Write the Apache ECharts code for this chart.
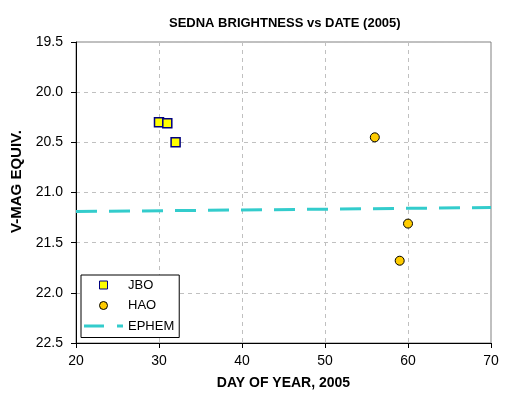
<!DOCTYPE html>
<html>
<head>
<meta charset="utf-8">
<script src="https://cdn.jsdelivr.net/npm/echarts@6/dist/echarts.min.js"></script>
<style>
  html, body { margin: 0; padding: 0; background: #fff; }
  #chart { width: 508px; height: 398px; }
</style>
</head>
<body>
<div id="chart"></div>
<script>
const jbo_days = [30, 31, 32];
const jbo_mag = [20.30, 20.31, 20.50];
const hao_days = [56, 60, 59];
const hao_mag = [20.45, 21.31, 21.68];
// ephemeris prediction
const ephem_days = [20, 70];
const ephem_mag = [21.19, 21.15];

const x_ticks = [20, 30, 40, 50, 60, 70];
const y_ticks = [19.5, 20.0, 20.5, 21.0, 21.5, 22.0, 22.5];

const FONT = "Liberation Sans, Arial, sans-serif";
const pairs = (xs, ys) => xs.map((x, i) => [x, ys[i]]);

const chart = echarts.init(document.getElementById("chart"), null, { renderer: "canvas" });

chart.setOption({
    animation: false,
    backgroundColor: "#fff",
    title: {
        text: "SEDNA BRIGHTNESS vs DATE (2005)",
        left: 164,
        top: 12,
        textStyle: { fontFamily: FONT, fontSize: 13, fontWeight: "bold", color: "#000" },
    },
    grid: {
        left: 76, right: 17, top: 42, bottom: 55,
        show: true, borderColor: "#808080", borderWidth: 1,
    },
    xAxis: {
        type: "value",
        min: x_ticks[0], max: x_ticks[x_ticks.length - 1], interval: 10,
        name: "DAY OF YEAR, 2005",
        nameLocation: "middle",
        nameGap: 33,
        nameTextStyle: { fontFamily: FONT, fontSize: 14, fontWeight: "bold", color: "#000" },
        axisLine: { show: true, lineStyle: { color: "#000", width: 1 } },
        axisTick: { show: true, inside: false, length: 5, lineStyle: { color: "#000" } },
        axisLabel: { fontFamily: FONT, fontSize: 14, color: "#000", margin: 11 },
        splitLine: { show: true, lineStyle: { color: "#c0c0c0", type: [4, 4] } },
    },
    yAxis: {
        type: "value",
        inverse: true,
        min: y_ticks[0], max: y_ticks[y_ticks.length - 1], interval: 0.5,
        name: "V-MAG EQUIV.",
        nameLocation: "middle",
        nameGap: 48,
        nameTextStyle: {
            fontFamily: FONT, fontSize: 15, fontWeight: "bold", color: "#000",
            padding: [0, 0, 0, 22],
        },
        axisLine: { show: true, lineStyle: { color: "#000", width: 1 } },
        axisTick: { show: true, inside: false, length: 5, lineStyle: { color: "#000" } },
        axisLabel: {
            fontFamily: FONT, fontSize: 14, color: "#000", margin: 13,
            formatter: (v) => v.toFixed(1),
        },
        splitLine: { show: true, lineStyle: { color: "#c0c0c0", type: [4, 4] } },
    },
    legend: {
        orient: "vertical",
        left: 81, top: 275,
        padding: [3.5, 5, 5, 3],
        backgroundColor: "#fff",
        borderColor: "#000",
        borderWidth: 1,
        borderRadius: 0,
        itemWidth: 39,
        itemHeight: 8,
        itemGap: 7.5,
        symbolKeepAspect: true,
        textStyle: { fontFamily: FONT, fontSize: 13, color: "#000" },
        data: [
            {
                name: "JBO",
                icon: "path://M0,0L10,0L10,10L0,10Z",
                itemStyle: { color: "#ffff00", borderColor: "#000080", borderWidth: 1 },
            },
            {
                name: "HAO",
                icon: "circle",
                itemStyle: { color: "#ffcc00", borderColor: "#000", borderWidth: 1 },
            },
            {
                name: "EPHEM",
                icon: "path://M0,0L20,0L20,3L0,3Z M33,0L39,0L39,3L33,3Z",
                itemStyle: { color: "#33cccc", borderWidth: 0 },
            },
        ],
    },
    series: [
        {
            name: "EPHEM",
            type: "line",
            data: pairs(ephem_days, ephem_mag),
            showSymbol: false,
            symbol: "none",
            lineStyle: { color: "#33cccc", width: 3, type: [21, 12] },
            itemStyle: { color: "#33cccc" },
            z: 2,
        },
        {
            name: "JBO",
            type: "scatter",
            data: pairs(jbo_days, jbo_mag),
            symbol: "rect",
            symbolSize: 9,
            itemStyle: { color: "#ffff00", borderColor: "#000080", borderWidth: 1.5, opacity: 1 },
            z: 3,
        },
        {
            name: "HAO",
            type: "scatter",
            data: pairs(hao_days, hao_mag),
            symbol: "circle",
            symbolSize: 9,
            itemStyle: { color: "#ffcc00", borderColor: "#000", borderWidth: 1, opacity: 1 },
            z: 3,
        },
    ],
});
</script>
</body>
</html>
